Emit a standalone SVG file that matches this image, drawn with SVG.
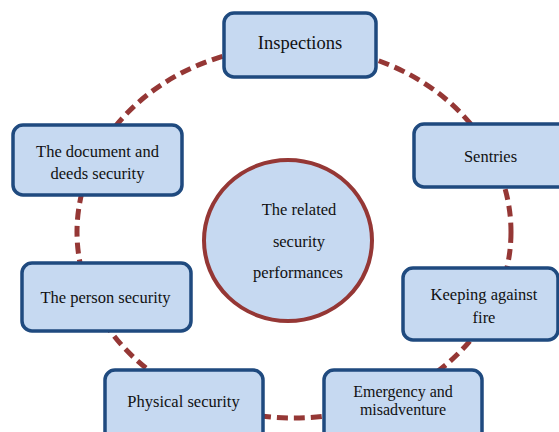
<svg xmlns="http://www.w3.org/2000/svg" width="559" height="432" viewBox="0 0 559 432">
<style>
.box{fill:#c6d9f1;stroke:#1f4a7f;stroke-width:3.5}
.t{font-family:"Liberation Serif","Times New Roman",serif;font-size:16.5px;fill:#111;text-anchor:middle}
.ring{fill:none;stroke:#953735;stroke-width:5;stroke-dasharray:11 6}
</style>
<rect width="559" height="432" fill="#fff"/>
<g id="connectors">
<ellipse class="ring" cx="294" cy="232" rx="217" ry="186"/>
</g>
<g id="center">
<ellipse cx="288" cy="240.5" rx="84" ry="80.5" fill="#c6d9f1" stroke="#953735" stroke-width="4"/>
<text class="t" x="299" y="215">The related</text>
<text class="t" x="299" y="247">security</text>
<text class="t" x="298" y="278">performances</text>
</g>
<g id="inspections">
<rect class="box" x="224" y="13" width="152" height="64" rx="10"/>
<text class="t" x="300" y="49" style="font-size:18.5px">Inspections</text>
</g>
<g id="documents">
<rect class="box" x="13" y="125" width="169" height="70" rx="10"/>
<text class="t" x="97.5" y="157">The document and</text>
<text class="t" x="97.5" y="179">deeds security</text>
</g>
<g id="sentries">
<rect class="box" x="414" y="124" width="160" height="63" rx="10"/>
<text class="t" x="490.5" y="162">Sentries</text>
</g>
<g id="fire">
<rect class="box" x="403" y="268" width="155" height="72" rx="10"/>
<text class="t" x="484" y="300">Keeping against</text>
<text class="t" x="484" y="323">fire</text>
</g>
<g id="person">
<rect class="box" x="22" y="263" width="169" height="68" rx="10"/>
<text class="t" x="105.5" y="303">The person security</text>
</g>
<g id="physical">
<rect class="box" x="105" y="370" width="158" height="72" rx="10"/>
<text class="t" x="183.5" y="407">Physical security</text>
</g>
<g id="emergency">
<rect class="box" x="324" y="370" width="158" height="72" rx="10"/>
<text class="t" x="403" y="397" style="font-size:16px">Emergency and</text>
<text class="t" x="403" y="415" style="font-size:16px">misadventure</text>
</g>
</svg>
